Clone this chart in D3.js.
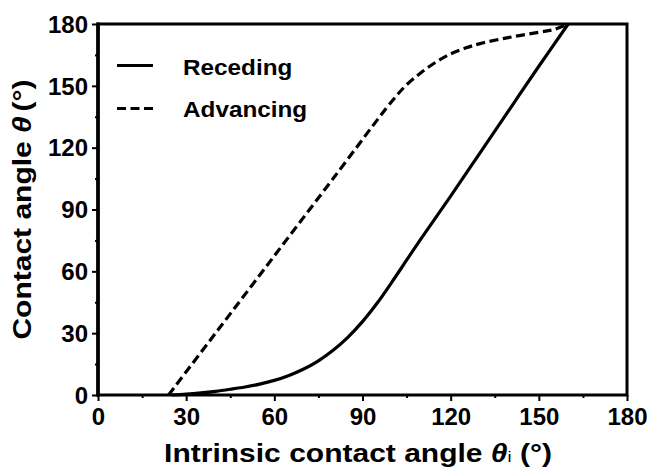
<!DOCTYPE html>
<html>
<head>
<meta charset="utf-8">
<script src="https://cdn.jsdelivr.net/npm/d3@7"></script>
<style>
  html, body { margin: 0; padding: 0; background: #fff; }
  svg { display: block; font-family: "Liberation Sans", Arial, Helvetica, sans-serif; font-weight: bold; }
</style>
</head>
<body>
<svg id="chart" width="651" height="467"></svg>
<script>
// Receding contact angle vs intrinsic contact angle (degrees)
const recedingTheta = [25, 30, 35, 40, 45, 50, 55, 60, 65, 70, 75, 80, 85, 90, 95, 100, 105, 110, 120, 130, 140, 150, 160];
const recedingAngle = [0, 0.4, 1.0, 1.8, 2.8, 3.9, 5.3, 7.1, 9.5, 12.6, 16.6, 21.7, 28, 35.6, 44.6, 54.8, 65.4, 76, 96.5, 117.5, 138.5, 159.5, 180];

// Advancing contact angle vs intrinsic contact angle (degrees)
const advancingTheta = [24, 40, 60, 80, 100, 105, 110, 115, 120, 125, 130, 140, 150, 155, 160];
const advancingAngle = [0, 30, 67.5, 105, 142.5, 150.5, 156.5, 161.5, 165.5, 168.3, 170.5, 173.5, 176, 177.3, 180];

const majorTicks = [0, 30, 60, 90, 120, 150, 180];
const minorTicks = [15, 45, 75, 105, 135, 165];
const seriesNames = ["Receding", "Advancing"];

const svg = d3.select("#chart");
const plotLeft = 98, plotRight = 627, plotTop = 24, plotBottom = 395;

const x = d3.scaleLinear().domain([0, 180]).range([plotLeft, plotRight]);
const y = d3.scaleLinear().domain([0, 180]).range([plotBottom, plotTop]);

const ink = "#000";

// Curves
const line = d3.line()
  .x(d => x(d[0]))
  .y(d => y(d[1]))
  .curve(d3.curveCatmullRom.alpha(0.5));

const receding = recedingTheta.map((t, i) => [t, recedingAngle[i]]);
const advancing = advancingTheta.map((t, i) => [t, advancingAngle[i]]);

svg.append("path")
  .datum(receding)
  .attr("d", line)
  .attr("fill", "none")
  .attr("stroke", ink)
  .attr("stroke-width", 3.2)
  .attr("stroke-linejoin", "round");

svg.append("path")
  .datum(advancing)
  .attr("d", line)
  .attr("fill", "none")
  .attr("stroke", ink)
  .attr("stroke-width", 3.2)
  .attr("stroke-dasharray", "9,4.5");

// Axes: major ticks with labels, minor ticks without
function styleAxis(g) {
  g.select(".domain").remove();
  g.selectAll(".tick line").attr("stroke", ink).attr("stroke-width", 2);
  g.selectAll(".tick text")
    .attr("fill", ink)
    .attr("font-size", 24)
    .attr("font-weight", "bold")
    .attr("font-family", "Liberation Sans, Arial, sans-serif");
}

svg.append("g")
  .attr("transform", `translate(0,${plotBottom})`)
  .call(d3.axisBottom(x).tickValues(majorTicks).tickSize(6).tickPadding(7).tickFormat(d3.format("d")))
  .call(styleAxis);

svg.append("g")
  .attr("transform", `translate(0,${plotBottom})`)
  .call(d3.axisBottom(x).tickValues(minorTicks).tickSize(3).tickFormat(""))
  .call(styleAxis);

svg.append("g")
  .attr("transform", `translate(${plotLeft},0)`)
  .call(d3.axisLeft(y).tickValues(majorTicks).tickSize(6).tickPadding(4).tickFormat(d3.format("d")))
  .call(styleAxis)
  .call(g => g.selectAll(".tick text").attr("dy", "0.34em"));

svg.append("g")
  .attr("transform", `translate(${plotLeft},0)`)
  .call(d3.axisLeft(y).tickValues(minorTicks).tickSize(3).tickFormat(""))
  .call(styleAxis);

// Frame
svg.append("rect")
  .attr("x", x(0)).attr("y", y(180))
  .attr("width", x(180) - x(0)).attr("height", y(0) - y(180))
  .attr("fill", "none")
  .attr("stroke", ink)
  .attr("stroke-width", 3);

svg.append("line")
  .attr("x1", x(0)).attr("x2", x(0))
  .attr("y1", y(180) - 1.5).attr("y2", y(0) + 1.5)
  .attr("stroke", ink)
  .attr("stroke-width", 3.6);

// Legend
const legend = svg.append("g");
const legendRows = [
  { name: seriesNames[0], dash: null, ly: 65.5, ty: 74.5 },
  { name: seriesNames[1], dash: "9,4.5", ly: 108.5, ty: 116.5 }
];
legendRows.forEach(r => {
  legend.append("line")
    .attr("x1", 117).attr("x2", 153)
    .attr("y1", r.ly).attr("y2", r.ly)
    .attr("stroke", ink)
    .attr("stroke-width", 3.2)
    .attr("stroke-dasharray", r.dash);
  legend.append("text")
    .attr("transform", `translate(183,${r.ty}) scale(1.13,1)`)
    .attr("font-size", 21.5)
    .attr("fill", ink)
    .text(r.name);
});

// X axis title
const xt = svg.append("text")
  .attr("transform", `translate(358,462) scale(1.2,1)`)
  .attr("text-anchor", "middle")
  .attr("font-size", 25)
  .attr("fill", ink);
xt.append("tspan").text("Intrinsic contact angle ");
xt.append("tspan").attr("font-style", "italic").text("θ");
xt.append("tspan").attr("font-size", 15).attr("font-weight", "normal").text("i");
xt.append("tspan").text(" (°)");

// Y axis title
const yt = svg.append("text")
  .attr("transform", `translate(31,209.5) rotate(-90) scale(1.2,1)`)
  .attr("text-anchor", "middle")
  .attr("font-size", 25)
  .attr("fill", ink);
yt.append("tspan").text("Contact angle ");
yt.append("tspan").attr("font-style", "italic").text("θ");
yt.append("tspan").attr("dx", -3).text(" (°)");
</script>
</body>
</html>
